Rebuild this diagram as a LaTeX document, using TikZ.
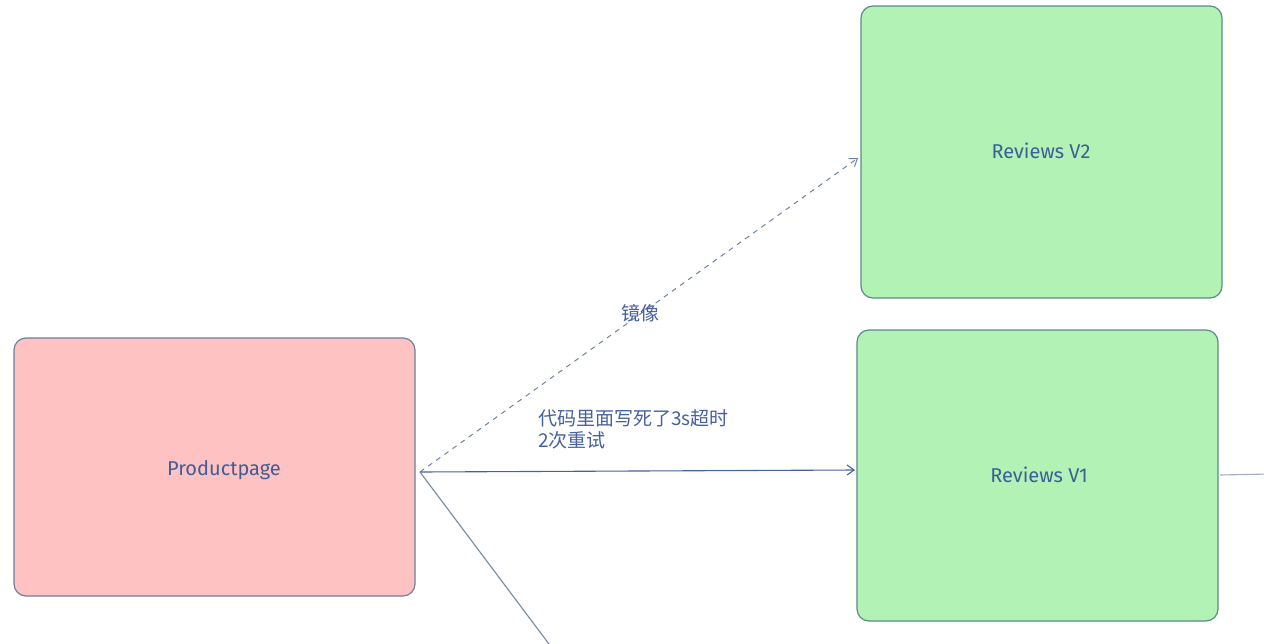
\documentclass[tikz,border=0pt]{standalone}
\usepackage{fontspec}
\setmainfont{Fira Sans}
\newfontfamily\cjk{Noto Sans CJK SC}
\usetikzlibrary{arrows.meta}
\definecolor{pinkfill}{HTML}{FFC2C2}
\definecolor{greenfill}{HTML}{B2F2B4}
\definecolor{boxline}{HTML}{6E7FA0}
\definecolor{greenline}{HTML}{5E8A86}
\definecolor{inkblue}{HTML}{4661A0}
\definecolor{txtblue}{HTML}{3E5E96}
\definecolor{greyline}{HTML}{7A89AA}
\tikzset{
  x=1pt, y=-1pt,
  box/.style={draw=#1, line width=1.2pt, rounded corners=12pt, inner sep=0pt},
  lbl/.style={text=txtblue, font=\fontsize{20}{24}\selectfont},
  cjklbl/.style={text=inkblue, font=\cjk\fontsize{19}{22}\selectfont, align=left, inner sep=0pt},
  arr/.style={draw=inkblue, line width=1.1pt, -{Straight Barb[length=7pt,width=10pt]}},
}
\begin{document}
\begin{tikzpicture}
\useasboundingbox (0,0) rectangle (1264,643);
\clip (0,0) rectangle (1264,643);
\fill[white] (0,0) rectangle (1264,643);
% boxes
\draw[box=boxline, fill=pinkfill] (14,338) rectangle (415,596);
\node[lbl] (pp) at (224,470) {Productpage};
\coordinate (ppE) at (420,472);
\draw[box=greenline, fill=greenfill] (861,6) rectangle (1222,298);
\node[lbl] (v2) at (1041,151) {Reviews V2};
\coordinate (v2W) at (858,158);
\draw[box=greenline, fill=greenfill] (857,330) rectangle (1218,621);
\node[lbl] (v1) at (1039,475) {Reviews V1};
\coordinate (v1W) at (855,470);
\coordinate (v1E) at (1220,475);
\coordinate (rightEnd) at (1270,474);
\coordinate (downEnd) at (552,648);
% connectors
\draw[arr, dashed, dash pattern=on 5pt off 5pt, line width=1pt, draw=greyline!80!inkblue] (ppE) -- (v2W);
\draw[arr] (ppE) -- (v1W);
\draw[draw=greyline, line width=1.1pt] (ppE) -- (downEnd);
\draw[draw=greyline!70, line width=1.1pt] (v1E) -- (rightEnd);
% labels
\node[cjklbl] (mirror) at (640,313) {镜像};
\node[cjklbl, anchor=base west] (note) at (538,447) {代码里面写死了3s超时\\2次重试};
\end{tikzpicture}
\end{document}
